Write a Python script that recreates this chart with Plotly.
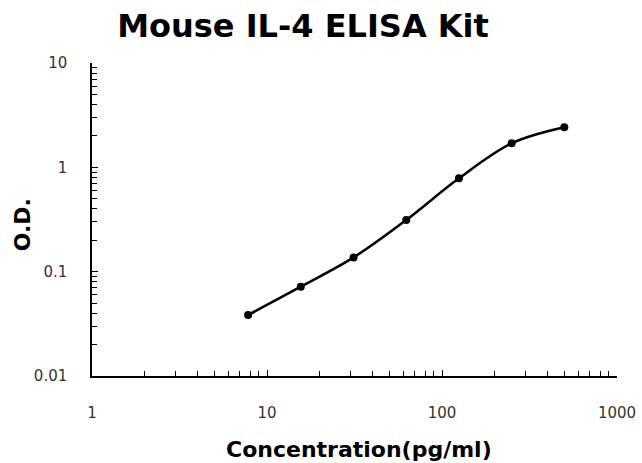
import plotly.graph_objects as go

concentration = [7.8, 15.6, 31.25, 62.5, 125, 250, 500]
od_values = [0.0385, 0.0718, 0.137, 0.313, 0.785, 1.70, 2.42]
x_tick_vals = [1, 10, 100, 1000]
x_tick_text = ["1", "10", "100", "1000"]
y_tick_vals = [0.01, 0.1, 1, 10]
y_tick_text = ["0.01", "0.1", "1", "10"]

TITLE_FONT = "DejaVu Sans, Verdana, sans-serif"
TICK_FONT = "DejaVu Sans, Tahoma, sans-serif"

fig = go.Figure()
fig.add_trace(go.Scatter(
    x=concentration, y=od_values, mode="lines+markers",
    line=dict(color="black", width=2.5, shape="spline", smoothing=1.0),
    marker=dict(color="black", size=8),
    showlegend=False,
))

fig.update_layout(
    width=642, height=463,
    margin=dict(l=92, r=25, t=63, b=87),
    paper_bgcolor="white", plot_bgcolor="white",
    font=dict(family=TICK_FONT, color="#333"),
    title=dict(text="<b>Mouse IL-4 ELISA Kit</b>", x=0.472, xref="container", xanchor="center",
               y=0.945, yref="container", yanchor="middle",
               font=dict(family=TITLE_FONT, size=32, color="black")),
    annotations=[
        dict(text="<b>O.D.</b>", textangle=-90, xref="paper", yref="paper",
             x=-0.133, y=0.482, xanchor="center", yanchor="middle", showarrow=False,
             font=dict(family=TITLE_FONT, size=22, color="black")),
        dict(text="<b>Concentration(pg/ml)</b>", xref="paper", yref="paper",
             x=0.5086, y=-0.236, xanchor="center", yanchor="middle", showarrow=False,
             font=dict(family=TITLE_FONT, size=22, color="black")),
    ],
)
fig.update_xaxes(
    type="log", range=[0, 3], automargin=False,
    tickvals=x_tick_vals, ticktext=x_tick_text,
    ticks="inside", ticklen=6, tickcolor="black", tickwidth=1,
    showline=True, linecolor="black", linewidth=1.5,
    showgrid=False, zeroline=False,
    tickfont=dict(size=15, color="#333"), ticklabelstandoff=22,
    minor=dict(ticks="inside", ticklen=5, tickcolor="black", dtick="D1", showgrid=False),
)
fig.update_yaxes(
    type="log", range=[-2, 1], automargin=False,
    tickvals=y_tick_vals, ticktext=y_tick_text,
    ticks="inside", ticklen=6, tickcolor="black", tickwidth=1,
    showline=True, linecolor="black", linewidth=1.5,
    showgrid=False, zeroline=False,
    tickfont=dict(size=15, color="#333"), ticklabelstandoff=20,
    minor=dict(ticks="inside", ticklen=5, tickcolor="black", dtick="D1", showgrid=False),
)

fig.write_html("out.html", config={"displayModeBar": False},
               post_script="document.body.style.margin='0';document.body.style.overflow='hidden';")
